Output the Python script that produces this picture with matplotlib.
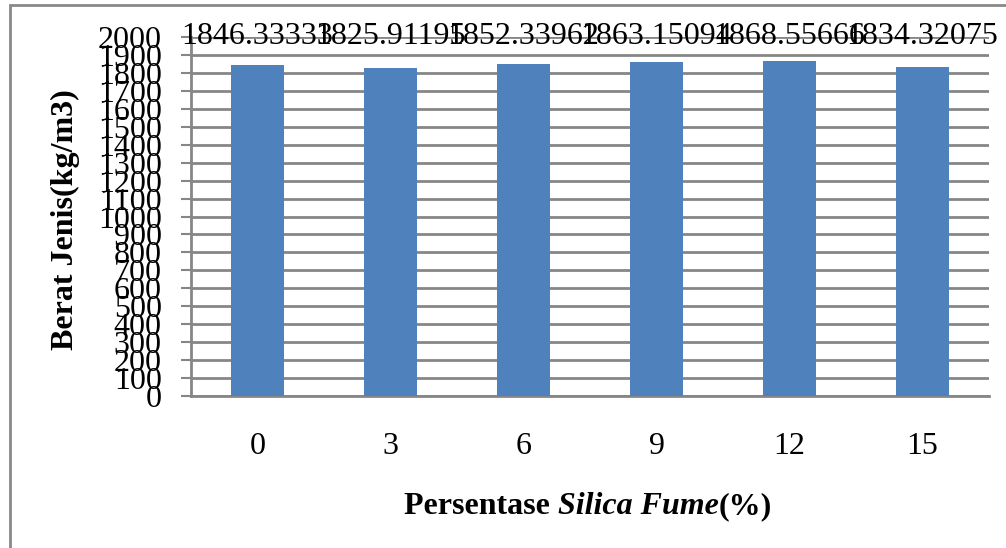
import numpy as np
import matplotlib
matplotlib.use("Agg")
import matplotlib.pyplot as plt
from matplotlib.patches import Rectangle

plt.rcParams['font.family'] = ['Liberation Serif', 'DejaVu Serif']

# data
categories = ['0', '3', '6', '9', '12', '15']
berat_jenis = [1846.33333, 1825.91195, 1852.33962, 1863.15094, 1868.55666, 1834.32075]
label_text = ['1846.33333', '1825.91195', '1852.33962', '1863.15094', '1868.55666', '1834.32075']
y_ticks = list(range(0, 2001, 100))

W, H = 1006, 548
fig = plt.figure(figsize=(W / 100, H / 100), dpi=100)

# chart border (Excel style frame)
fig.patches.append(Rectangle((10 / W, -0.05), 1.05, 1 - 5 / H + 0.05, transform=fig.transFigure,
                             fill=False, edgecolor='#898989', linewidth=2, clip_on=False))

ax = fig.add_axes([191 / W, 1 - 396 / H, (989 - 191) / W, (396 - 37) / H])
x = np.arange(len(categories))
ax.bar(x, berat_jenis, width=0.4, color='#4F81BD', zorder=3)

ax.set_xlim(-0.5, len(categories) - 0.5)
ax.set_ylim(0, 2000)
ax.set_yticks(y_ticks)
ax.set_yticklabels([str(v) for v in y_ticks])
ax.set_xticks(x)
ax.set_xticklabels(categories)

ax.grid(axis='y', color='#868686', linewidth=2, zorder=0)
ax.set_axisbelow(True)
for s in ['top', 'right']:
    ax.spines[s].set_visible(False)
ax.spines['left'].set_color('#868686')
ax.spines['bottom'].set_color('#868686')
ax.spines['left'].set_linewidth(2)
ax.spines['bottom'].set_linewidth(2)

ax.tick_params(axis='y', length=7, width=1.5, color='#868686', labelsize=23, pad=14)
ax.tick_params(axis='x', length=0, labelsize=23, pad=26)

# value labels sit on the top gridline
for xi, t in zip(x, label_text):
    ax.text(xi, 2000, t, ha='center', va='center', fontsize=23, zorder=5)

ax.set_ylabel('Berat Jenis(kg/m3)', fontsize=23, fontweight='bold')
ax.yaxis.set_label_coords(-(191 - 80) / (989 - 191), (396 - 220) / (396 - 37))

# x label with mixed bold / bold-italic pieces
pieces = [('Persentase ', 'normal'), ('Silica Fume', 'italic'), ('(%)', 'normal')]
renderer = fig.canvas.get_renderer()
texts = []
widths = []
for s, st in pieces:
    t = fig.text(0, 1 - 507 / H, s, fontsize=23, fontweight='bold', style=st, va='center', ha='left')
    widths.append(t.get_window_extent(renderer).width)
    texts.append(t)
x0 = 588 - sum(widths) / 2
for t, w in zip(texts, widths):
    t.set_x(x0 / W)
    x0 += w

fig.savefig('out.png', dpi=100)
